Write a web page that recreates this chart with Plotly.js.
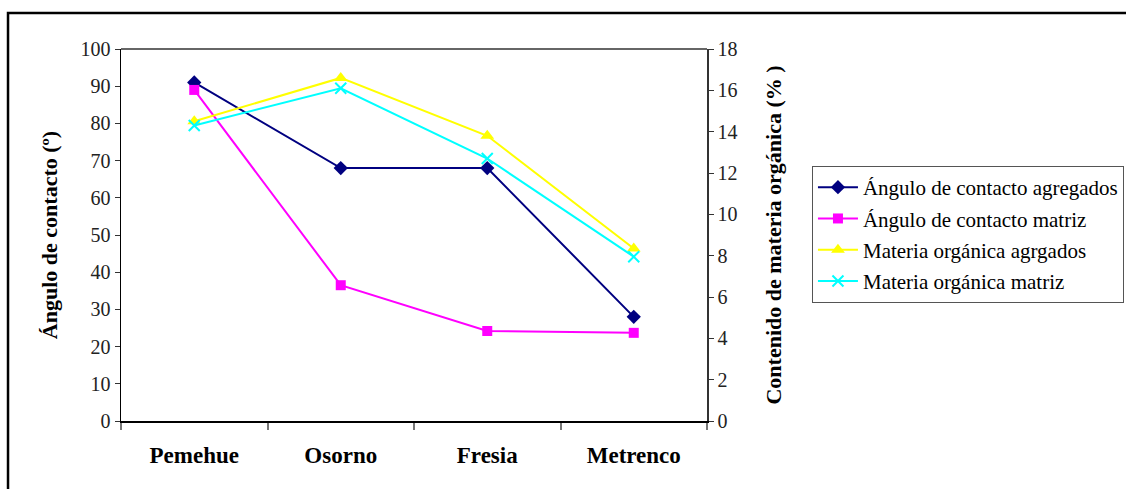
<!DOCTYPE html>
<html>
<head>
<meta charset="utf-8">
<script src="https://cdn.plot.ly/plotly-3.0.1.min.js"></script>
<style>html,body{margin:0;padding:0;background:#fff;}#chart{width:1126px;height:489px;}</style>
</head>
<body>
<div id="chart"></div>
<script>
const categories = ["Pemehue", "Osorno", "Fresia", "Metrenco"];
const anguloAgregados = [91, 68, 68, 28];
const anguloMatriz = [89, 36.5, 24.2, 23.7];
const materiaAgregados = [14.5, 16.6, 13.8, 8.35];
const materiaMatriz = [14.3, 16.1, 12.7, 7.95];
const seriesNames = ["Ángulo de contacto agregados", "Ángulo de contacto matriz", "Materia orgánica agrgados", "Materia orgánica matriz"];
const leftTicks = [0, 10, 20, 30, 40, 50, 60, 70, 80, 90, 100];
const rightTicks = [0, 2, 4, 6, 8, 10, 12, 14, 16, 18];

const serif = "Liberation Serif";

const traces = [
  {x: categories, y: anguloAgregados, name: seriesNames[0], yaxis: "y", legendgroup: "a",
   mode: "lines+markers", line: {color: "#000080", width: 2},
   marker: {symbol: "diamond", size: 11, color: "#000080"}},
  {x: categories, y: anguloMatriz, name: seriesNames[1], yaxis: "y", legendgroup: "b",
   mode: "lines+markers", line: {color: "#FF00FF", width: 2},
   marker: {symbol: "square", size: 10, color: "#FF00FF"}},
  {x: categories, y: materiaAgregados, name: seriesNames[2], yaxis: "y2", legendgroup: "c",
   mode: "lines+markers", line: {color: "#FFFF00", width: 2},
   marker: {symbol: "triangle-up", size: 12, color: "#FFFF00"}},
  {x: categories, y: materiaMatriz, name: seriesNames[3], yaxis: "y2", legendgroup: "d",
   mode: "lines+markers", line: {color: "#00FFFF", width: 2},
   marker: {symbol: "x-thin-open", size: 11, color: "#00FFFF", line: {color: "#00FFFF", width: 2}}}
];

const layout = {
  width: 1126, height: 489,
  margin: {l: 121, r: 419, t: 49, b: 68},
  paper_bgcolor: "#fff", plot_bgcolor: "#fff",
  font: {family: serif, color: "#000"},
  showlegend: true,
  legend: {
    xref: "container", yref: "container",
    x: 0.7211, y: 0.6605, xanchor: "left", yanchor: "top",
    bordercolor: "#555", borderwidth: 1, bgcolor: "#fff",
    font: {family: serif, size: 21, color: "#000"},
    tracegroupgap: 1, itemwidth: 40
  },
  xaxis: {
    type: "category", range: [-0.5, 3.5],
    showline: true, linecolor: "#000", linewidth: 2, mirror: false,
    ticks: "outside", tickson: "boundaries", ticklen: 7, tickcolor: "#777", tickwidth: 2,
    showgrid: false, zeroline: false, ticklabelstandoff: 12,
    tickfont: {family: serif, size: 23, color: "#000", weight: "bold"}
  },
  yaxis: {
    range: [0, 100], tickvals: leftTicks, showline: true, linecolor: "#000", linewidth: 1.5,
    ticks: "outside", ticklen: 5, tickcolor: "#333", showgrid: false, zeroline: false,
    tickfont: {family: serif, size: 20, color: "#222"}, automargin: true,
    title: {text: "Ángulo de contacto (º)", standoff: 17, font: {family: serif, size: 22, color: "#000", weight: "bold"}}
  },
  yaxis2: {
    overlaying: "y", side: "right", range: [0, 18], tickvals: rightTicks,
    showline: true, linecolor: "#333", linewidth: 1.5,
    ticks: "outside", ticklen: 5, tickcolor: "#333", showgrid: false, zeroline: false,
    tickfont: {family: serif, size: 20, color: "#222"}, automargin: true,
    title: {text: "Contenido de materia orgánica (% )", standoff: 29, font: {family: serif, size: 22, color: "#000", weight: "bold"}}
  },
  shapes: [
    {type: "line", xref: "paper", yref: "paper", x0: 0, x1: 1, y0: 1, y1: 1, line: {color: "#333", width: 1.5}},
    {type: "rect", xref: "paper", yref: "paper", x0: -0.1928, x1: 1.75, y0: -0.25, y1: 1.0968,
     line: {color: "#000", width: 2.5}, fillcolor: "rgba(0,0,0,0)", layer: "below"}
  ]
};

Plotly.newPlot("chart", traces, layout, {displayModeBar: false, staticPlot: true});
</script>
</body>
</html>
